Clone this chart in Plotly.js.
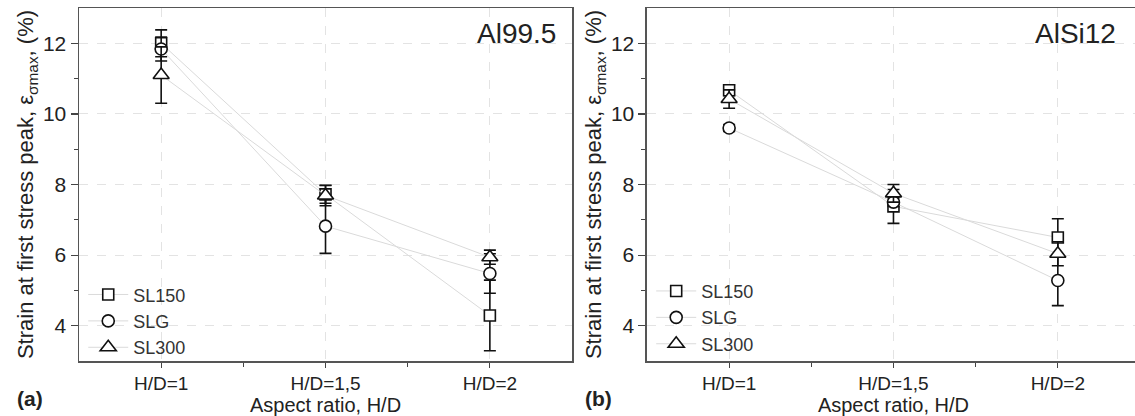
<!DOCTYPE html>
<html>
<head>
<meta charset="utf-8">
<script src="https://cdn.plot.ly/plotly-3.0.1.min.js"></script>
<style>
html,body{margin:0;padding:0;overflow:hidden;background:#fff;}
#chart{width:1141px;height:416px;}
</style>
</head>
<body>
<div id="chart"></div>
<script>
// categories and tick labels
const categories = ['H/D=1', 'H/D=1,5', 'H/D=2'];
const catPos = [1, 2, 3];
const seriesNames = ['SL150', 'SLG', 'SL300'];

// (a) Al99.5
const al_SL150 = [12.0, 7.72, 4.29];
const al_SL150_err = [0.38, 0.25, 1.0];
const al_SLG = [11.84, 6.82, 5.48];
const al_SLG_err = [0.34, 0.77, 0.56];
const al_SL300 = [11.1, 7.69, 5.94];
const al_SL300_err = [0.8, 0.29, 0.2];

// (b) AlSi12
const si_SL150 = [10.67, 7.38, 6.5];
const si_SL150_err = [0.15, 0.48, 0.53];
const si_SLG = [9.6, 7.5, 5.28];
const si_SLG_err = [0.1, 0.12, 0.71];
const si_SL300 = [10.42, 7.75, 6.04];
const si_SL300_err = [0.26, 0.25, 0.34];

const yTicks = [4, 6, 8, 10, 12];

const symbols = ['square', 'circle', 'triangle-up'];
const sizes = [11, 12, 14];

function mk(name, y, err, idx, xa, ya, leg) {
  return {
    type: 'scatter', mode: 'lines+markers', name: name,
    x: catPos, y: y, xaxis: xa, yaxis: ya, legend: leg,
    line: {color: '#dadada', width: 1},
    marker: {symbol: symbols[idx], size: sizes[idx], color: '#ffffff',
             line: {color: '#111111', width: 1.6}},
    error_y: {type: 'data', array: err, visible: true, color: '#111111', thickness: 1.6, width: 6},
    cliponaxis: false
  };
}

const data = [
  mk(seriesNames[0], al_SL150, al_SL150_err, 0, 'x', 'y', 'legend'),
  mk(seriesNames[1], al_SLG, al_SLG_err, 1, 'x', 'y', 'legend'),
  mk(seriesNames[2], al_SL300, al_SL300_err, 2, 'x', 'y', 'legend'),
  mk(seriesNames[0], si_SL150, si_SL150_err, 0, 'x2', 'y2', 'legend2'),
  mk(seriesNames[1], si_SLG, si_SLG_err, 1, 'x2', 'y2', 'legend2'),
  mk(seriesNames[2], si_SL300, si_SL300_err, 2, 'x2', 'y2', 'legend2')
];

const FONT = 'Liberation Sans, Arial, sans-serif';
const ytitle = 'Strain at first stress peak, ε<sub>σmax</sub>, (%)';

function xax(domain, anchor) {
  return {
    domain: domain, anchor: anchor, range: [0.5, 3.5],
    tickmode: 'array', tickvals: catPos, ticktext: categories,
    ticks: 'outside', ticklen: 5, tickwidth: 1.2, tickcolor: '#444',
    minor: {tickmode: 'array', tickvals: [1.5, 2.5], ticks: 'outside', ticklen: 4, tickcolor: '#444', showgrid: false},
    showline: true, linecolor: '#555', linewidth: 1.5, mirror: true,
    showgrid: true, gridcolor: '#e3e3e3', griddash: 'dash', gridwidth: 1,
    zeroline: false, automargin: false,
    tickfont: {family: FONT, size: 19, color: '#222'},
    title: {text: 'Aspect ratio, H/D', font: {family: FONT, size: 20, color: '#222'}, standoff: 1}
  };
}
function yax(anchor) {
  return {
    anchor: anchor, range: [3, 13],
    tickmode: 'array', tickvals: yTicks,
    ticks: 'outside', ticklen: 7, tickwidth: 1.2, tickcolor: '#444',
    minor: {tickmode: 'array', tickvals: [5, 7, 9, 11], ticks: 'outside', ticklen: 4, tickcolor: '#444', showgrid: false},
    showline: true, linecolor: '#555', linewidth: 1.5, mirror: true,
    showgrid: true, gridcolor: '#e3e3e3', griddash: 'dash', gridwidth: 1,
    zeroline: false, automargin: false,
    tickfont: {family: FONT, size: 21, color: '#222'},
    title: {text: ytitle, font: {family: FONT, size: 22, color: '#222'}, standoff: 3}
  };
}

const legendBase = {
  yanchor: 'top', xanchor: 'left', bgcolor: 'rgba(0,0,0,0)',
  font: {family: FONT, size: 18, color: '#333'}, itemwidth: 40, tracegroupgap: 0
};

const layout = {
  width: 1141, height: 416,
  margin: {l: 79, r: 1, t: 8, b: 55},
  paper_bgcolor: '#ffffff', plot_bgcolor: '#ffffff',
  font: {family: FONT},
  showlegend: true,
  xaxis: xax([0, 0.4647], 'y'),
  yaxis: yax('x'),
  xaxis2: xax([0.5353, 1], 'y2'),
  yaxis2: yax('x2'),
  legend: Object.assign({x: 0.004, y: 0.24}, legendBase),
  legend2: Object.assign({x: 0.5393, y: 0.25}, legendBase),
  annotations: [
    {text: 'Al99.5', xref: 'x domain', yref: 'y domain', x: 1, y: 1, xanchor: 'right', yanchor: 'top',
     xshift: -14, yshift: -8, showarrow: false, font: {family: FONT, size: 28, color: '#222'}},
    {text: 'AlSi12', xref: 'x2 domain', yref: 'y2 domain', x: 1, y: 1, xanchor: 'right', yanchor: 'top',
     xshift: -22, yshift: -8, showarrow: false, font: {family: FONT, size: 28, color: '#222'}},
    {text: '<b>(a)</b>', xref: 'paper', yref: 'paper', x: -0.046, y: -0.105, xanchor: 'center', yanchor: 'middle',
     showarrow: false, font: {family: FONT, size: 21, color: '#222'}},
    {text: '<b>(b)</b>', xref: 'paper', yref: 'paper', x: 0.4901, y: -0.105, xanchor: 'center', yanchor: 'middle',
     showarrow: false, font: {family: FONT, size: 21, color: '#222'}}
  ]
};

Plotly.newPlot('chart', data, layout, {displayModeBar: false, staticPlot: true});
</script>
</body>
</html>
